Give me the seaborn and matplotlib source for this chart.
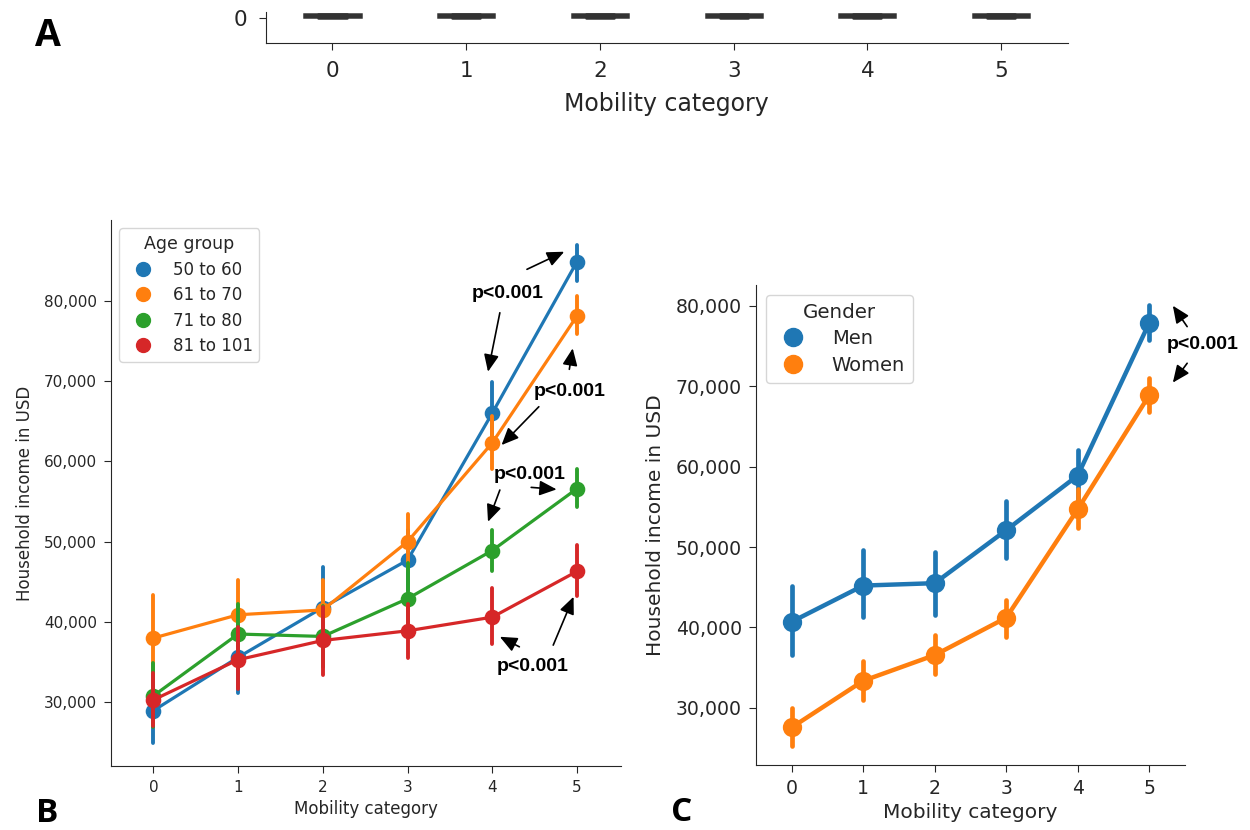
import matplotlib
matplotlib.use("Agg")
import matplotlib.pyplot as plt
from matplotlib.lines import Line2D
from matplotlib.ticker import StrMethodFormatter
import pandas as pd
import seaborn as sns

# %% Data
mobility = [0, 1, 2, 3, 4, 5]
colors = ["#1f77b4", "#ff7f0e", "#2ca02c", "#d62728"]

# A: income boxplots, only the strip near zero is visible
a_low = [0, 0, 0, 0, 0, 0]
a_q1 = [10000, 10000, 10000, 10000, 10000, 10000]
a_median = [20000, 20000, 20000, 20000, 20000, 20000]
a_q3 = [40000, 40000, 40000, 40000, 40000, 40000]
a_high = [90000, 90000, 90000, 90000, 90000, 90000]

# B: household income by age group (point = mean, bar = CI)
age_groups = ["50 to 60", "61 to 70", "71 to 80", "81 to 101"]
b_mean = {
    "50 to 60": [28960, 35600, 41800, 47700, 66000, 84850],
    "61 to 70": [38000, 40900, 41500, 50000, 62300, 78100],
    "71 to 80": [30800, 38500, 38200, 42900, 48900, 56600],
    "81 to 101": [30300, 35300, 37700, 38900, 40600, 46300],
}
b_low = {
    "50 to 60": [24900, 31100, 36700, 44000, 62100, 82400],
    "61 to 70": [32600, 36600, 37800, 46500, 59000, 75900],
    "71 to 80": [26900, 34700, 34400, 38500, 46300, 54300],
    "81 to 101": [27000, 31700, 33400, 35500, 37300, 43200],
}
b_high = {
    "50 to 60": [33000, 40100, 46900, 51500, 69900, 86900],
    "61 to 70": [43400, 45200, 45200, 53500, 65600, 80600],
    "71 to 80": [34900, 42300, 42000, 47300, 51500, 59000],
    "81 to 101": [33600, 39400, 41900, 42300, 44200, 49600],
}

# C: household income by gender
genders = ["Men", "Women"]
c_mean = {
    "Men": [40700, 45200, 45500, 52100, 58900, 77900],
    "Women": [27550, 33350, 36550, 41200, 54700, 68900],
}
c_low = {
    "Men": [36500, 41300, 41600, 48600, 55700, 75800],
    "Women": [25200, 30950, 34150, 38750, 52350, 66800],
}
c_high = {
    "Men": [45200, 49600, 49400, 55750, 62100, 80100],
    "Women": [30000, 35800, 39000, 43450, 57200, 71000],
}


def long_frame(groups, mean, low, high, name):
    # three rows per point: median gives the point, full range gives the bar
    rows = []
    for g in groups:
        for m, lo, mu, hi in zip(mobility, low[g], mean[g], high[g]):
            for v in (lo, mu, hi):
                rows.append({"mobility": m, name: g, "income": v})
    return pd.DataFrame(rows)


df_a = pd.DataFrame(
    [{"mobility": m, "income": v}
     for m, vals in zip(mobility, zip(a_low, a_q1, a_median, a_q3, a_high))
     for v in vals]
)
df_b = long_frame(age_groups, b_mean, b_low, b_high, "Age group")
df_c = long_frame(genders, c_mean, c_low, c_high, "Gender")

# %% Figure
sns.set_style("ticks")
plt.rcParams["font.family"] = ["DejaVu Sans"]
fig = plt.figure(figsize=(12.5, 8.3), dpi=100)
W, H = 1250, 830
ax_a = fig.add_axes([265.6 / W, 1 - 42.7 / H, (1068 - 265.6) / W, (42.7 - 12) / H])
ax_b = fig.add_axes([111 / W, 1 - 766 / H, (621 - 111) / W, (766 - 220) / H])
ax_c = fig.add_axes([756 / W, 1 - 765 / H, (1185 - 756) / W, (765 - 285) / H])

# A
sns.boxplot(data=df_a, x="mobility", y="income", color="#404040", linecolor="#333333",
            width=0.42, linewidth=1.8, fliersize=0, ax=ax_a)
ax_a.set_ylim(-250000, 60000)
ax_a.set_xlim(-0.5, 5.5)
ax_a.set_yticks([0])
ax_a.set_ylabel("")
ax_a.set_xlabel("Mobility category", fontsize=17, labelpad=8)
ax_a.tick_params(labelsize=15.5, length=5, pad=8)
sns.despine(ax=ax_a)

# B
sns.pointplot(data=df_b, x="mobility", y="income", hue="Age group", hue_order=age_groups,
              palette=colors, estimator="median", errorbar=("pi", 100),
              markers="o", markersize=9.5, linewidth=2.3, err_kws={"linewidth": 2.8},
              legend=False, ax=ax_b)
ax_b.set_xlim(-0.5, 5.52)
ax_b.set_ylim(22070, 90050)
ax_b.set_yticks([30000, 40000, 50000, 60000, 70000, 80000])
ax_b.yaxis.set_major_formatter(StrMethodFormatter("{x:,.0f}"))
ax_b.set_xlabel("Mobility category", fontsize=12)
ax_b.set_ylabel("Household income in USD", fontsize=12, labelpad=7)
ax_b.tick_params(labelsize=11, length=5, pad=5)
handles_b = [Line2D([], [], marker="o", linestyle="", color=c, markersize=10) for c in colors]
ax_b.legend(handles_b, age_groups, title="Age group", loc="upper left",
            fontsize=12, title_fontsize=12.5, handletextpad=0.8, labelspacing=0.45)
sns.despine(ax=ax_b)


def p_note(ax, xy, arrows):
    ax.text(xy[0], xy[1], "p<0.001", ha="center", va="center", fontsize=14,
            fontweight="bold", family="Liberation Sans", color="black", clip_on=False)
    for tail, tip in arrows:
        ax.annotate("", xy=tip, xytext=tail, annotation_clip=False,
                    arrowprops=dict(arrowstyle="-|>,head_length=0.8,head_width=0.35",
                                    color="black", lw=1.2, shrinkA=0, shrinkB=0,
                                    mutation_scale=13))


p_note(ax_b, (4.18, 80920), [((4.41, 83910), (4.85, 86100)), ((4.09, 78500), (3.95, 71160))])
p_note(ax_b, (4.91, 68670), [((4.91, 71460), (4.95, 74070)), ((4.55, 66800), (4.11, 62030))])
p_note(ax_b, (4.44, 58420), [((4.09, 56430), (3.95, 52480)), ((4.46, 56760), (4.76, 56510))])
p_note(ax_b, (4.48, 34420), [((4.32, 36910), (4.09, 38160)), ((4.72, 37120), (4.96, 43140))])

# C
sns.pointplot(data=df_c, x="mobility", y="income", hue="Gender", hue_order=genders,
              palette=colors[:2], estimator="median", errorbar=("pi", 100),
              markers="o", markersize=11.5, linewidth=3.2, err_kws={"linewidth": 3.4},
              legend=False, ax=ax_c)
ax_c.set_xlim(-0.5, 5.5)
ax_c.set_ylim(22870, 82610)
ax_c.set_yticks([30000, 40000, 50000, 60000, 70000, 80000])
ax_c.yaxis.set_major_formatter(StrMethodFormatter("{x:,.0f}"))
ax_c.set_xlabel("Mobility category", fontsize=14.5)
ax_c.set_ylabel("Household income in USD", fontsize=14.5, labelpad=8)
ax_c.tick_params(labelsize=13.6, length=5, pad=5)
handles_c = [Line2D([], [], marker="o", linestyle="", color=c, markersize=13) for c in colors[:2]]
ax_c.legend(handles_c, genders, title="Gender", loc="upper left",
            fontsize=14, title_fontsize=14.3, handletextpad=1.0, labelspacing=0.4)
sns.despine(ax=ax_c)

p_note(ax_c, (5.75, 75150), [((5.53, 77430), (5.33, 80030)), ((5.53, 72870), (5.33, 70460))])

# panel letters
for letter, x, y, size in [("A", 48, 36, 27), ("B", 47, 813, 24), ("C", 682, 812, 24)]:
    fig.text(x / W, 1 - y / H, letter, fontsize=size, fontweight="bold",
             family="Open Sans", color="black", ha="center", va="center")

fig.savefig("out.png", dpi=100)
